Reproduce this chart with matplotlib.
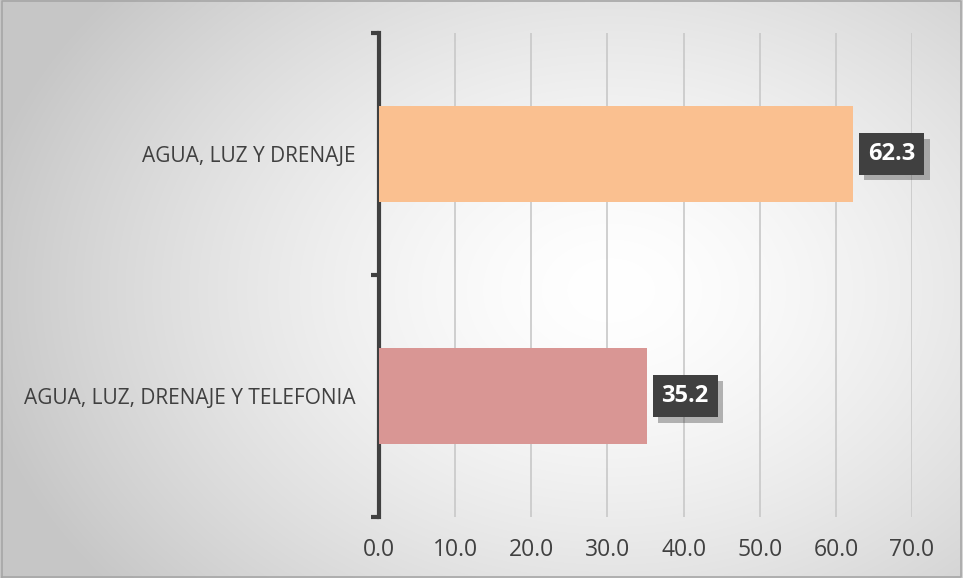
import matplotlib.pyplot as plt
import matplotlib.patheffects as pe
import numpy as np

categorias = ["AGUA, LUZ, DRENAJE Y TELEFONIA", "AGUA, LUZ Y DRENAJE"]
valores = [35.2, 62.3]
colores = ["#D99694", "#FAC090"]
ticks_x = [0, 10, 20, 30, 40, 50, 60, 70]

plt.rcParams['font.family'] = ['Open Sans', 'DejaVu Sans']

fig = plt.figure(figsize=(9.63, 5.78), dpi=100)

# fondo con degradado radial
bg = fig.add_axes([0, 0, 1, 1], zorder=-10)
yy, xx = np.mgrid[0:578, 0:963]
d = np.sqrt(((xx - 610) / 640.0) ** 2 + ((yy - 290) / 470.0) ** 2)
d = np.clip(d, 0, 1)
g = 1.0 - 0.22 * d ** 1.5
bg.imshow(np.dstack([g, g, g]), aspect='auto', extent=[0, 1, 0, 1], origin='upper')
bg.plot([0.002, 0.998, 0.998, 0.002, 0.002], [0.002, 0.002, 0.998, 0.998, 0.002],
        color='#a6a6a6', lw=1.2)
bg.set_xlim(0, 1)
bg.set_ylim(0, 1)
bg.axis('off')

ax = fig.add_axes([0.3936, 0.1055, 0.5535, 0.8375])
ax.patch.set_alpha(0)

y = np.arange(len(categorias))
ax.barh(y, valores, height=0.4, color=colores, zorder=3)

ax.set_xlim(0, 70)
ax.set_ylim(-0.5, 1.5)
ax.set_xticks(ticks_x)
ax.set_xticklabels([f"{t:.1f}" for t in ticks_x], fontsize=16.5, color='#404040')
ax.set_yticks(y)
ax.set_yticklabels(categorias, fontsize=15, color='#404040')
ax.tick_params(axis='y', length=0, pad=17)
ax.tick_params(axis='x', length=0, pad=15)

# marcas del eje y
ax.set_yticks([-0.5, 0.5, 1.5], minor=True)
ax.tick_params(axis='y', which='minor', length=6, width=3, color='#404040')

ax.grid(axis='x', color='#c8c8c8', lw=1.2, zorder=0)
for s in ['top', 'right', 'bottom']:
    ax.spines[s].set_visible(False)
ax.spines['left'].set_color('#404040')
ax.spines['left'].set_linewidth(3)

for yi, v in zip(y, valores):
    t = ax.text(v + 1.9, yi, f"{v:.1f}", ha='left', va='center', color='white',
                fontsize=17, fontweight='bold', zorder=5,
                bbox=dict(boxstyle='square,pad=0.38', fc='#404040', ec='none'))
    t.get_bbox_patch().set_path_effects([pe.withSimplePatchShadow(offset=(4, -4), alpha=0.3)])

fig.savefig("out.png", dpi=100)
